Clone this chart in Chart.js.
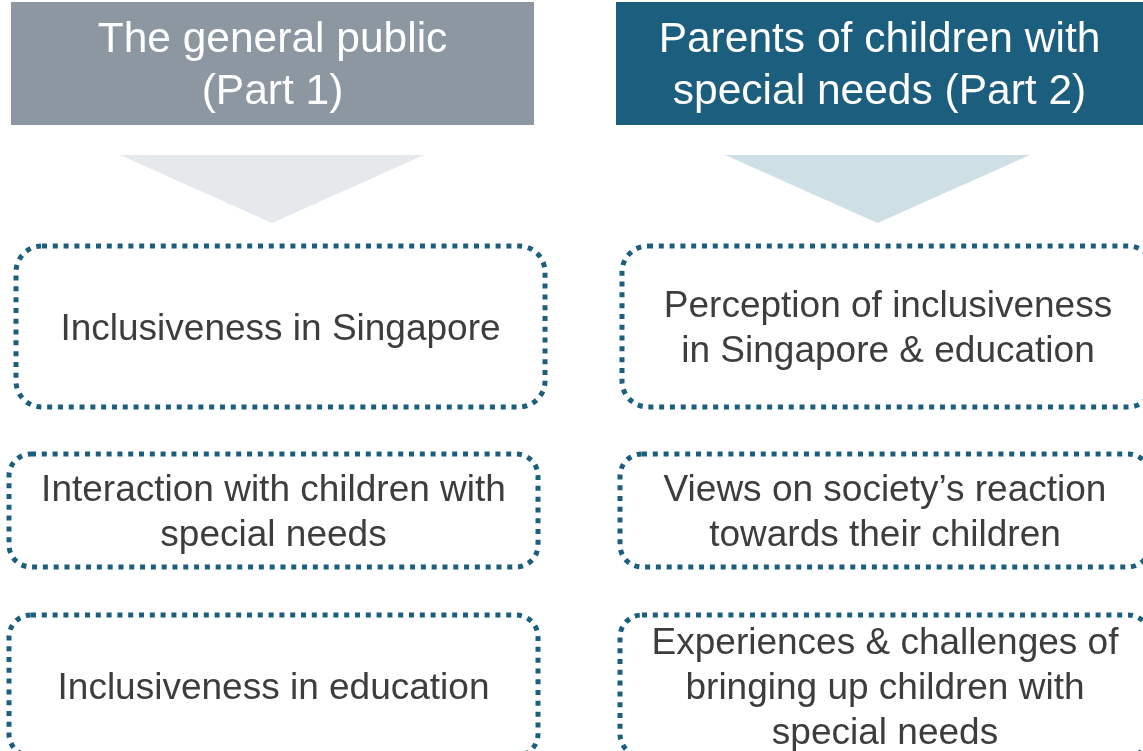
<!DOCTYPE html>
<html>
<head>
<meta charset="utf-8">
<script src="https://cdn.jsdelivr.net/npm/chart.js@4.4.1/dist/chart.umd.min.js"></script>
<style>
  html, body { margin: 0; padding: 0; background: #fff; }
  #wrap { width: 1143px; height: 751px; }
</style>
</head>
<body>
<div id="wrap"><canvas id="diagrama" width="1143" height="751"></canvas></div>
<script>
// cabeceras (dos columnas)
var headerLabels = [["The general public", "(Part 1)"], ["Parents of children with", "special needs (Part 2)"]];
var headerLeft = [11, 616];
var headerRight = [534, 1143];
var headerTop = [2, 2];
var headerBottom = [125, 125];

// flechas (triangulos)
var arrowLeft = [120, 725];
var arrowRight = [424, 1030];
var arrowTop = [155, 155];
var arrowTip = [223, 223];

// cajas punteadas
var topicsPart1 = [["Inclusiveness in Singapore"], ["Interaction with children with", "special needs"], ["Inclusiveness in education"]];
var topicsPart2 = [["Perception of inclusiveness", "in Singapore & education"], ["Views on society\u2019s reaction", "towards their children"], ["Experiences & challenges of", "bringing up children with", "special needs"]];
var boxLeft1 = [16, 9, 9];
var boxRight1 = [545, 538, 538];
var boxLeft2 = [622, 620, 620];
var boxRight2 = [1154, 1150, 1150];
var boxTop = [246, 454, 615];
var boxBottom = [407, 567, 756];

var headerColors = ["#8c97a1", "#1b5e7d"];
var arrowColors = ["#e5e9ec", "#cfdfe6"];
var dotColor = "#1b5e7d";
var textColor = "#3d3d3d";
var fuente = "'Liberation Sans', Arial, sans-serif";

var datasets = [];
for (var i = 0; i < 2; i++) {
	datasets.push({
		type: "line",
		data: [
			{x: headerLeft[i], y: headerTop[i]},
			{x: headerRight[i], y: headerTop[i]},
			{x: headerRight[i], y: headerBottom[i]},
			{x: headerLeft[i], y: headerBottom[i]}
		],
		fill: "shape",
		backgroundColor: headerColors[i],
		borderColor: "transparent",
		pointRadius: 0,
		tension: 0
	});
	datasets.push({
		type: "line",
		data: [
			{x: arrowLeft[i], y: arrowTop[i]},
			{x: arrowRight[i], y: arrowTop[i]},
			{x: (arrowLeft[i] + arrowRight[i]) / 2, y: arrowTip[i]}
		],
		fill: "shape",
		backgroundColor: arrowColors[i],
		borderColor: "transparent",
		pointRadius: 0,
		tension: 0
	});
}

function lineas(ctx, lines, cx, cy, lh) {
	var y0 = cy - (lines.length - 1) * lh / 2;
	for (var k = 0; k < lines.length; k++) {
		ctx.fillText(lines[k], cx, y0 + k * lh);
	}
}

var diagramPlugin = {
	id: "diagrama",
	afterDatasetsDraw: function(chart) {
		var ctx = chart.ctx;
		var sx = chart.scales.x, sy = chart.scales.y;
		ctx.save();
		ctx.textAlign = "center";
		ctx.textBaseline = "middle";

		// textos de cabecera
		ctx.fillStyle = "#ffffff";
		ctx.font = "42.5px " + fuente;
		for (var i = 0; i < 2; i++) {
			var cx = sx.getPixelForValue((headerLeft[i] + headerRight[i]) / 2);
			var cy = sy.getPixelForValue((headerTop[i] + headerBottom[i]) / 2);
			lineas(ctx, headerLabels[i], cx, cy + 3, 52);
		}

		// cajas
		var cols = [
			{l: boxLeft1, r: boxRight1, t: topicsPart1},
			{l: boxLeft2, r: boxRight2, t: topicsPart2}
		];
		for (var c = 0; c < cols.length; c++) {
			for (var b = 0; b < boxTop.length; b++) {
				var x0 = sx.getPixelForValue(cols[c].l[b]);
				var x1 = sx.getPixelForValue(cols[c].r[b]);
				var y0 = sy.getPixelForValue(boxTop[b]);
				var y1 = sy.getPixelForValue(boxBottom[b]);
				var rad = b == 0 ? 26 : 22;
				ctx.beginPath();
				ctx.roundRect(x0, y0, x1 - x0, y1 - y0, rad);
				ctx.lineWidth = 5;
				ctx.strokeStyle = dotColor;
				ctx.setLineDash([5, 5.8]);
				ctx.stroke();
				ctx.setLineDash([]);

				ctx.fillStyle = textColor;
				ctx.font = "37px " + fuente;
				lineas(ctx, cols[c].t[b], (x0 + x1) / 2, (y0 + y1) / 2 + 3, 45);
			}
		}
		ctx.restore();
	}
};

var grafico = new Chart(document.getElementById("diagrama").getContext("2d"), {
	type: "scatter",
	data: { datasets: datasets },
	options: {
		responsive: false,
		animation: false,
		showLine: true,
		layout: { padding: 0 },
		plugins: {
			legend: { display: false },
			tooltip: { enabled: false }
		},
		scales: {
			x: { type: "linear", min: 0, max: 1143, display: false },
			y: { type: "linear", min: 0, max: 751, reverse: true, display: false }
		}
	},
	plugins: [diagramPlugin]
});
</script>
</body>
</html>
